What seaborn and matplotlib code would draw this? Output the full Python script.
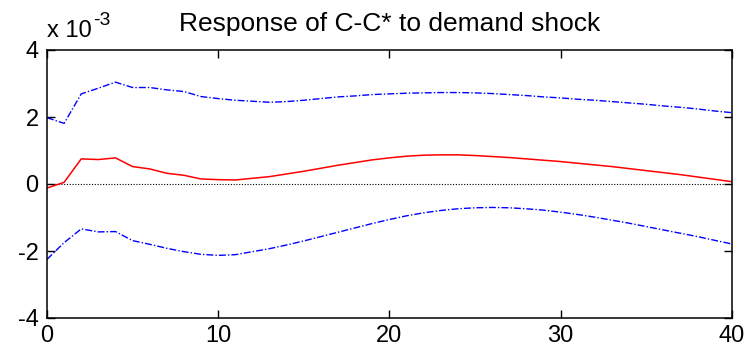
import numpy as np
import pandas as pd
import matplotlib
matplotlib.use("Agg")
import matplotlib.pyplot as plt
import seaborn as sns

# Values in units of 1e-3
horizon = list(range(0, 41))
response = [-0.12, 0.05, 0.75, 0.73, 0.78, 0.52, 0.45, 0.32, 0.26, 0.15,
            0.13, 0.12, 0.17, 0.22, 0.30, 0.38, 0.47, 0.56, 0.64, 0.72,
            0.78, 0.83, 0.86, 0.87, 0.87, 0.85, 0.82, 0.79, 0.75, 0.71,
            0.67, 0.62, 0.57, 0.52, 0.46, 0.40, 0.34, 0.28, 0.21, 0.14, 0.07]
upper = [1.98, 1.81, 2.69, 2.86, 3.04, 2.88, 2.88, 2.81, 2.76, 2.61,
         2.55, 2.50, 2.47, 2.44, 2.46, 2.50, 2.55, 2.60, 2.63, 2.67,
         2.69, 2.71, 2.72, 2.73, 2.73, 2.72, 2.70, 2.67, 2.64, 2.60,
         2.57, 2.53, 2.50, 2.46, 2.42, 2.38, 2.33, 2.29, 2.24, 2.18, 2.13]
lower = [-2.25, -1.75, -1.34, -1.43, -1.42, -1.69, -1.80, -1.92, -2.02, -2.10,
         -2.13, -2.11, -2.02, -1.93, -1.82, -1.70, -1.57, -1.44, -1.31, -1.18,
         -1.06, -0.95, -0.86, -0.79, -0.74, -0.71, -0.70, -0.71, -0.74, -0.78,
         -0.84, -0.91, -0.99, -1.08, -1.17, -1.27, -1.37, -1.47, -1.57, -1.68, -1.79]
zero_line = [0.0] * len(horizon)
x_ticks = [0, 10, 20, 30, 40]
y_ticks = [-4, -2, 0, 2, 4]
title = "Response of C-C* to demand shock"

sns.set_style("white")
plt.rcParams['font.family'] = ['Liberation Sans', 'DejaVu Sans']

fig = plt.figure(figsize=(7.53, 3.6), dpi=100)
ax = fig.add_axes([47/753, 1 - 318/360, (731.7 - 47)/753, (318 - 50)/360])

df = pd.DataFrame({"h": horizon, "resp": response, "up": upper, "lo": lower, "zero": zero_line})

sns.lineplot(data=df, x="h", y="zero", ax=ax, color="black", linestyle=(0, (1, 1.5)), linewidth=0.8)
sns.lineplot(data=df, x="h", y="up", ax=ax, color="blue", linestyle=(0, (5, 1.5, 1, 1.5)), linewidth=1.0)
sns.lineplot(data=df, x="h", y="lo", ax=ax, color="blue", linestyle=(0, (5, 1.5, 1, 1.5)), linewidth=1.0)
sns.lineplot(data=df, x="h", y="resp", ax=ax, color="red", linewidth=1.1)

ax.set_xlim(0, 40)
ax.set_ylim(-4, 4)
ax.set_xticks(x_ticks)
ax.set_yticks(y_ticks)
ax.set_xticklabels([str(t) for t in x_ticks])
ax.set_yticklabels([str(t) for t in y_ticks])
ax.set_xlabel("")
ax.set_ylabel("")
ax.tick_params(direction="in", length=6, width=1.0, top=True, right=True,
               bottom=True, left=True, labelsize=17, colors="black", pad=6)
ax.tick_params(axis="x", pad=5)
for s in ax.spines.values():
    s.set_visible(True)
    s.set_color("black")
    s.set_linewidth(1.1)

ax.set_title(title, fontsize=19, pad=14, color="black")
base = ax.text(0.0, 1.048, "x 10", transform=ax.transAxes, fontsize=17,
               ha="left", va="baseline", color="black")
ax.annotate("-3", xy=(1.0, 1.0), xycoords=base, xytext=(1, 0), textcoords="offset points",
            fontsize=14, ha="left", va="center", color="black")

fig.savefig("out.png", dpi=100)
